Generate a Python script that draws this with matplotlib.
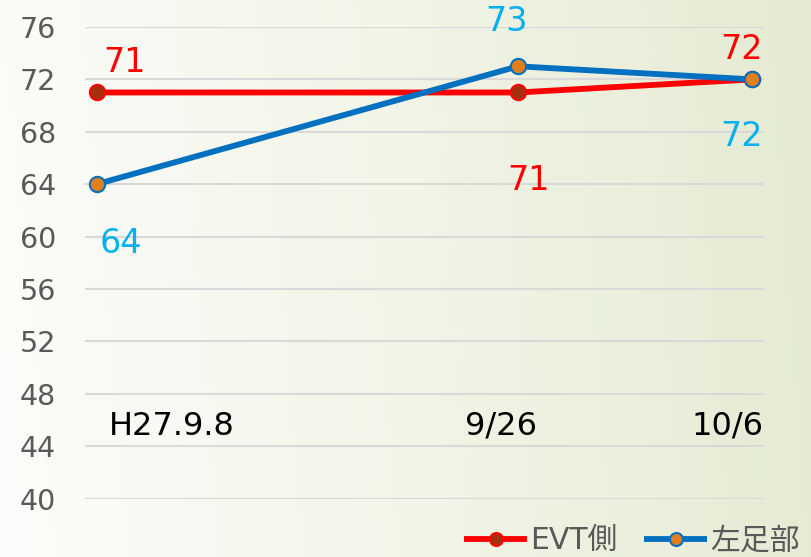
import matplotlib
matplotlib.use("Agg")
import matplotlib.pyplot as plt
import numpy as np
import datetime as dt
from matplotlib.colors import LinearSegmentedColormap

dates = [dt.date(2015, 9, 8), dt.date(2015, 9, 26), dt.date(2015, 10, 6)]
date_labels = ["H27.9.8", "9/26", "10/6"]
evt = [71, 71, 72]
left_foot = [64, 73, 72]
series_names = ["EVT側", "左足部"]
yticks = [40, 44, 48, 52, 56, 60, 64, 68, 72, 76]

days = [(d - dates[0]).days for d in dates]

plt.rcParams['font.family'] = ['DejaVu Sans', 'Noto Sans CJK JP']

fig = plt.figure(figsize=(8.12, 5.57), dpi=100)

# background gradient
bg = fig.add_axes([0, 0, 1, 1], zorder=-10)
cmap = LinearSegmentedColormap.from_list("bg", ["#fcfcfa", "#f1f4e6", "#e5ead2"])
gx = np.linspace(0, 1, 256)
gy = np.linspace(0, 1, 64)
X, Y = np.meshgrid(gx, gy)
G = np.clip(X ** 1.1 * 0.95 + (1 - Y) * 0.05, 0, 1)
bg.imshow(G, cmap=cmap, aspect='auto', extent=[0, 1, 0, 1], origin='upper')
bg.axis('off')

ax = fig.add_axes([85 / 812, 1 - 498.5 / 557, (764 - 85) / 812, (498.5 - 27) / 557])
ax.set_facecolor('none')
ax.set_xlim(-0.5, 28.5)
ax.set_ylim(40, 76)
ax.set_yticks(yticks)
ax.set_xticks([])
for s in ax.spines.values():
    s.set_visible(False)
ax.tick_params(axis='y', length=0, labelsize=20.5, labelcolor='#595959', pad=21)
ax.grid(axis='y', color='#d9d9d9', linewidth=1.5)
ax.set_axisbelow(True)

ax.plot(days, evt, color='#ff0000', lw=4.2, marker='o', ms=11,
        markerfacecolor='#a5300f', markeredgecolor='#ff0000', markeredgewidth=1.5,
        label=series_names[0], zorder=3, solid_capstyle='butt')
ax.plot(days, left_foot, color='#0070c0', lw=4.2, marker='o', ms=11,
        markerfacecolor='#e07f1c', markeredgecolor='#0070c0', markeredgewidth=1.5,
        label=series_names[1], zorder=4, solid_capstyle='butt')

# data labels
red = '#ff0000'
blue = '#00b0f0'
lab_fs = 24
# EVT
ax.annotate(str(evt[0]), (days[0], evt[0]), xytext=(28, 30), textcoords='offset pixels',
            ha='center', va='center', color=red, fontsize=lab_fs, annotation_clip=False)
ax.annotate(str(evt[1]), (days[1], evt[1]), xytext=(10, -88), textcoords='offset pixels',
            ha='center', va='center', color=red, fontsize=lab_fs, annotation_clip=False)
ax.annotate(str(evt[2]), (days[2], evt[2]), xytext=(-11, 30), textcoords='offset pixels',
            ha='center', va='center', color=red, fontsize=lab_fs, annotation_clip=False)
# left foot
ax.annotate(str(left_foot[0]), (days[0], left_foot[0]), xytext=(24, -59), textcoords='offset pixels',
            ha='center', va='center', color=blue, fontsize=lab_fs, annotation_clip=False)
ax.annotate(str(left_foot[1]), (days[1], left_foot[1]), xytext=(-12, 45), textcoords='offset pixels',
            ha='center', va='center', color=blue, fontsize=lab_fs, annotation_clip=False)
ax.annotate(str(left_foot[2]), (days[2], left_foot[2]), xytext=(-11, -57), textcoords='offset pixels',
            ha='center', va='center', color=blue, fontsize=lab_fs, annotation_clip=False)

# category labels inside plot
cat_fs = 23
ax.annotate(date_labels[0], (days[0], 45.5), xytext=(12, 0), textcoords='offset pixels',
            ha='left', va='center', fontsize=cat_fs, color='black')
ax.annotate(date_labels[1], (days[1], 45.5), xytext=(-17, 0), textcoords='offset pixels',
            ha='center', va='center', fontsize=cat_fs, color='black')
ax.annotate(date_labels[2], (days[2], 45.5), xytext=(-25, 0), textcoords='offset pixels',
            ha='center', va='center', fontsize=cat_fs, color='black')

leg = fig.legend(loc='lower right', bbox_to_anchor=(1.018, -0.045), ncol=2, frameon=False,
                 fontsize=21.5, labelcolor='#595959', handlelength=2.1, handletextpad=0.1,
                 columnspacing=0.9, markerscale=0.85)

fig.savefig('out.png', dpi=100)
